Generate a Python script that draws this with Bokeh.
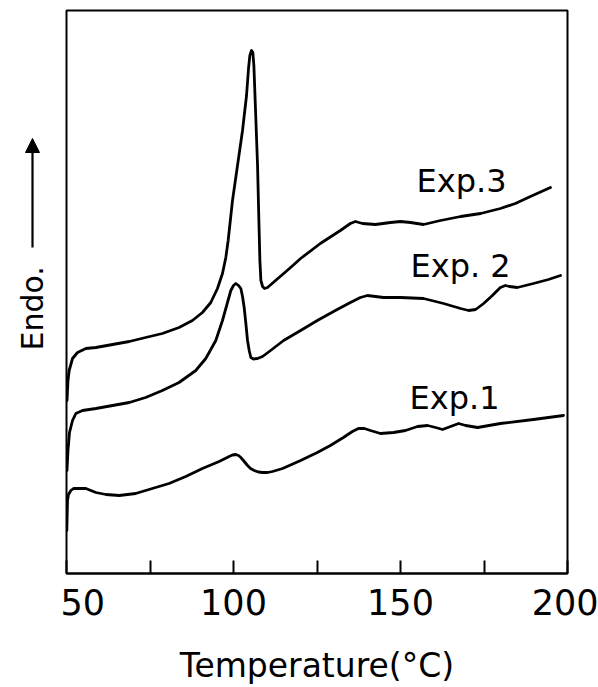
import math

from bokeh.embed import file_html
from bokeh.layouts import row
from bokeh.models import Arrow, Label, NormalHead, Range1d
from bokeh.plotting import figure
from bokeh.resources import INLINE

# DSC heating traces, temperature in deg C and heat flow in arbitrary units (endo up)
exp3_t = [50.15, 50.45, 50.8, 51.8, 53.3, 55.8, 58.8, 63.8, 68.8, 73.7, 78.7, 83.7,
          87.7, 90.7, 93.2, 95.2, 96.7, 97.7, 98.4, 99.7, 101.2, 102.7, 103.9, 104.5,
          104.9, 105.4, 105.8, 106.1, 106.6, 107.2, 107.6, 107.9, 108.2, 108.7, 109.3,
          110.2, 112.6, 117.1, 120.1, 126.0, 132.0, 135.0, 136.5, 138.6, 142.5, 147.0,
          150.0, 153.0, 156.9, 162.0, 168.0, 174.0, 179.9, 184.4, 188.9, 194.9]
exp3_q = [17.3, 19.3, 20.3, 21.5, 22.1, 22.5, 22.6, 22.9, 23.2, 23.6, 24.0, 24.6,
          25.3, 26.1, 27.1, 28.5, 30.0, 31.6, 33.3, 37.3, 40.8, 44.3, 47.8, 50.5,
          51.8, 52.3, 52.1, 50.8, 46.3, 40.8, 35.3, 31.3, 29.3, 28.7, 28.5,
          28.6, 29.3, 30.6, 31.5, 33.0, 34.3, 35.0, 35.2, 35.0, 34.9, 35.1,
          35.2, 35.1, 34.9, 35.3, 35.7, 36.0, 36.5, 37.0, 37.7, 38.6]

exp2_t = [50.15, 50.45, 50.9, 51.8, 52.8, 54.8, 58.8, 63.8, 68.8, 73.7, 78.7, 83.7,
          88.7, 91.7, 94.7, 96.7, 98.2, 99.2, 100.0, 100.7, 101.5, 102.2, 102.7, 103.2,
          103.7, 104.2, 104.7, 105.2, 106.0, 107.2, 108.7, 111.1, 115.0, 120.1, 125.1,
          130.5, 135.0, 138.0, 140.1, 142.5, 144.9, 150.0, 156.9, 162.9, 168.0, 170.4,
          172.5, 174.9, 177.5, 179.9, 181.4, 182.6, 185.0, 189.8, 194.3, 197.9]
exp2_q = [10.3, 12.3, 14.1, 15.3, 16.0, 16.3, 16.5, 16.8, 17.1, 17.6, 18.3, 19.1,
          20.3, 21.5, 23.3, 25.3, 27.1, 28.3, 28.8, 29.0, 28.8, 28.5, 27.7, 26.6,
          25.0, 23.3, 22.3, 21.6, 21.45, 21.5, 21.7, 22.3, 23.3, 24.3, 25.3,
          26.3, 27.1, 27.6, 27.8, 27.7, 27.6, 27.6, 27.5, 27.0, 26.5, 26.3,
          26.4, 27.0, 27.8, 28.6, 28.8, 28.7, 28.6, 29.0, 29.4, 29.8]

exp1_t = [50.1, 50.3, 50.6, 51.3, 52.1, 53.3, 54.5, 55.8, 58.8, 61.8, 65.8, 70.7,
          75.7, 80.7, 85.7, 90.7, 95.7, 98.7, 99.7, 100.7, 101.5, 102.2, 103.1, 104.2,
          105.1, 106.2, 107.5, 108.7, 110.2, 111.7, 114.7, 120.1, 125.1, 129.0, 132.9,
          135.6, 137.4, 139.2, 141.0, 144.0, 147.9, 151.5, 155.1, 158.1, 160.5, 162.6,
          165.0, 167.4, 169.5, 173.1, 179.9, 189.8, 198.8]
exp1_q = [4.3, 7.3, 7.9, 8.3, 8.5, 8.5, 8.5, 8.5, 8.1, 7.9, 7.8, 8.0,
          8.5, 9.0, 9.7, 10.5, 11.2, 11.7, 11.85, 11.9, 11.8, 11.6, 11.25, 10.8,
          10.5, 10.3, 10.15, 10.1, 10.1, 10.2, 10.5, 11.3, 12.1, 12.8, 13.6,
          14.2, 14.5, 14.5, 14.3, 14.0, 14.1, 14.3, 14.7, 14.8, 14.6, 14.4,
          14.7, 15.0, 14.8, 14.6, 15.0, 15.4, 15.8]

# curve labels
label_text = ["Exp.3", "Exp. 2", "Exp.1"]
label_t = [168.3, 168.0, 166.2]
label_q = [39.3, 30.8, 17.6]

# axis ticks
x_ticks = [50, 75, 100, 125, 150, 175, 200]
x_tick_labels = {50: "50", 75: "", 100: "100", 125: "", 150: "150", 175: "", 200: "200"}

Q_RANGE = (0, 56.3)
FONT = "DejaVu Sans"
SIDE_W = 60

# main DSC panel
p = figure(width=598 - SIDE_W, height=687, output_backend="svg", toolbar_location=None,
           x_range=Range1d(50, 200), y_range=Range1d(*Q_RANGE),
           min_border_left=6, min_border_right=31, min_border_top=10, min_border_bottom=114)

p.background_fill_color = "white"
p.border_fill_color = "white"
p.outline_line_color = "black"
p.outline_line_width = 2
p.grid.visible = False
p.yaxis.visible = False

ax = p.xaxis[0]
ax.ticker = x_ticks
ax.major_label_overrides = x_tick_labels
ax.major_tick_in = 13
ax.major_tick_out = 0
ax.major_tick_line_width = 2
ax.minor_tick_line_color = None
ax.axis_line_width = 2
ax.major_label_text_font = FONT
ax.major_label_text_font_size = "35px"
ax.major_label_text_color = "black"
ax.major_label_standoff = 15
ax.axis_label = "Temperature(°C)"
ax.axis_label_text_font = FONT
ax.axis_label_text_font_size = "33px"
ax.axis_label_text_font_style = "normal"
ax.axis_label_text_color = "black"
ax.axis_label_standoff = 28

for t, q in [(exp3_t, exp3_q), (exp2_t, exp2_q), (exp1_t, exp1_q)]:
    p.line(x=t, y=q, line_color="black", line_width=2.8, line_join="round", line_cap="round")

for txt, t, q in zip(label_text, label_t, label_q):
    p.add_layout(Label(x=t, y=q, text=txt, text_align="center", text_baseline="middle",
                       text_font=FONT, text_font_size="32px", text_color="black"))

# side strip carrying the rotated "Endo." caption and its upward arrow;
# its frame lines up with the main panel, so it shares the heat-flow range
side = figure(width=SIDE_W, height=687, output_backend="svg", toolbar_location=None,
              x_range=Range1d(0, SIDE_W), y_range=Range1d(*Q_RANGE),
              x_axis_type=None, y_axis_type=None,
              min_border_left=0, min_border_right=0, min_border_top=10, min_border_bottom=114)
side.outline_line_color = None
side.grid.visible = False
side.background_fill_color = "white"
side.border_fill_color = "white"

side.add_layout(Label(x=31.5, y=22.3, text="Endo.", angle=math.pi / 2,
                      text_align="left", text_baseline="middle",
                      text_font=FONT, text_font_size="30px", text_color="black"))
side.add_layout(Arrow(x_start=32, y_start=32.6, x_end=32, y_end=43.5,
                      line_color="black", line_width=2.2,
                      end=NormalHead(size=14, fill_color="black", line_color="black")))

open("out.html", "w").write(file_html(row(side, p, spacing=0), INLINE))
